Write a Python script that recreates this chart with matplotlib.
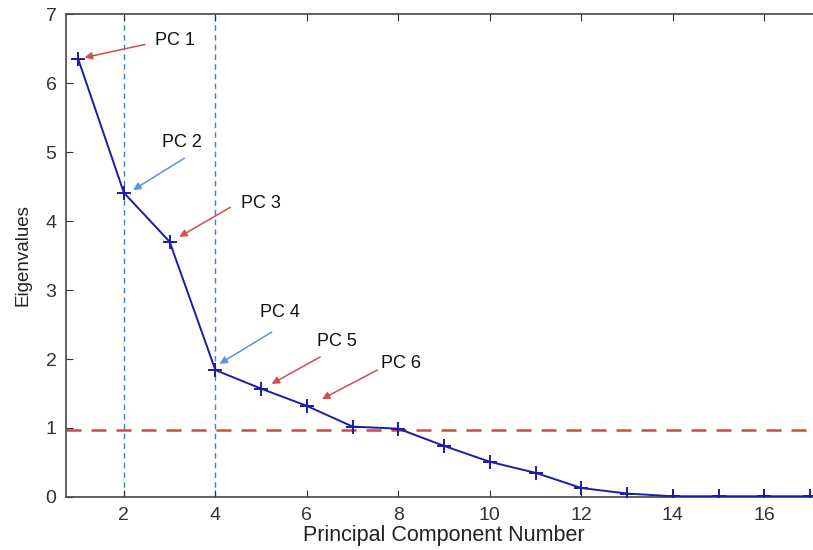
import matplotlib
matplotlib.use("Agg")
import matplotlib.pyplot as plt

components = list(range(1, 18))
eigenvalues = [6.35, 4.41, 3.70, 1.84, 1.57, 1.32, 1.02, 0.99, 0.74, 0.51,
               0.35, 0.13, 0.05, 0.01, 0.01, 0.01, 0.01]
threshold = 0.97
vlines_x = [2, 4]
xticks = [2, 4, 6, 8, 10, 12, 14, 16]
yticks = [0, 1, 2, 3, 4, 5, 6, 7]

# annotations: label, text pos, arrow tail, arrow head, colour
ann_labels = ["PC 1", "PC 2", "PC 3", "PC 4", "PC 5", "PC 6"]
ann_text = [(2.68, 6.62), (2.84, 5.14), (4.55, 4.25), (4.97, 2.68), (6.22, 2.25), (7.63, 1.94)]
ann_tail = [(2.46, 6.56), (3.32, 4.91), (4.33, 4.20), (5.23, 2.39), (6.29, 2.03), (7.54, 1.84)]
ann_head = [(1.14, 6.37), (2.20, 4.45), (3.21, 3.77), (4.09, 1.93), (5.23, 1.64), (6.33, 1.42)]
ann_colors = ["#d0504c", "#5b96d6", "#d0504c", "#5b96d6", "#d0504c", "#d0504c"]

plt.rcParams['font.family'] = ['Liberation Sans', 'DejaVu Sans']

fig = plt.figure(figsize=(8.13, 5.5), dpi=100)
ax = fig.add_axes([0.0815, 0.0964, 0.943, 0.878])

for xv in vlines_x:
    ax.axvline(xv, color="#3a7fd8", lw=1.0, ls=(0, (4, 3)), zorder=1)
ax.axhline(threshold, color="#cc4a46", lw=1.8, ls=(0, (6, 4)), zorder=1)

ax.plot(components, eigenvalues, color="#1c1ca8", lw=1.4, marker="+",
        markersize=10, markeredgewidth=1.4, zorder=3)

for lab, tp, tl, hd, c in zip(ann_labels, ann_text, ann_tail, ann_head, ann_colors):
    ax.annotate("", xy=hd, xytext=tl,
                arrowprops=dict(arrowstyle="-|>", color=c, lw=1.1,
                                mutation_scale=11, shrinkA=0, shrinkB=0))
    ax.text(tp[0], tp[1], lab, fontsize=13, ha="left", va="center", color="#111111")

ax.set_xlim(0.74, 17.5)
ax.set_ylim(0, 7)
ax.set_xticks(xticks)
ax.set_yticks(yticks)
ax.tick_params(direction="in", length=5, top=True, right=False, labelsize=14,
               colors="#333333")
ax.tick_params(axis="x", pad=7)
ax.tick_params(axis="y", pad=7)
for s in ["left", "bottom", "top"]:
    ax.spines[s].set_color("#444444")
    ax.spines[s].set_linewidth(1.2)
ax.spines["right"].set_visible(False)

ax.set_xlabel("Principal Component Number", fontsize=15.5, color="#222222")
ax.xaxis.set_label_coords(0.493, -0.058)
ax.set_ylabel("Eigenvalues", fontsize=13.5, color="#222222", labelpad=10)

fig.savefig("out.png", dpi=100)
